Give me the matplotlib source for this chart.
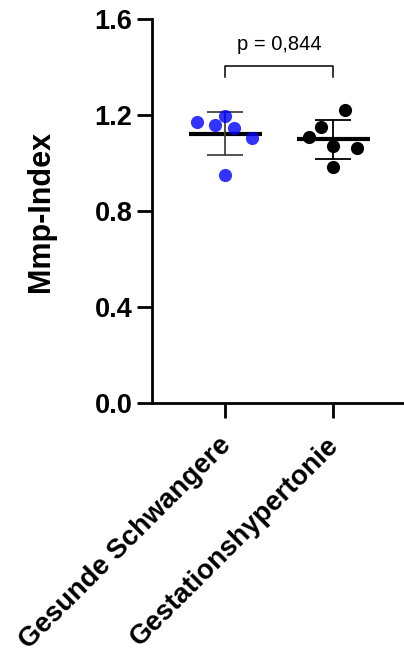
import matplotlib
matplotlib.use('Agg')
import matplotlib.pyplot as plt
import numpy as np

plt.rcParams['font.family'] = ['Liberation Sans', 'DejaVu Sans']

# Mmp-Index per Gruppe
groups = ['Gesunde Schwangere', 'Gestationshypertonie']
healthy = [1.171, 1.160, 1.197, 1.146, 1.103, 0.950]
hypertension = [1.221, 1.149, 1.107, 1.072, 1.062, 0.982]
p_label = 'p = 0,844'

# horizontal spread of the dots around each category
jitter_healthy = [-0.256, -0.09, 0.0, 0.083, 0.25, 0.0]
jitter_hyper = [0.111, -0.111, -0.222, 0.0, 0.222, 0.0]

fig = plt.figure(figsize=(4.04, 6.55), dpi=100)
ax = fig.add_axes([152 / 404, 1 - 403 / 655, 1 - 152 / 404, (403 - 19) / 655])

series = [
    (healthy, jitter_healthy, '#0000FF', 0.8, '#444444'),
    (hypertension, jitter_hyper, 'black', 1.0, 'black'),
]
for i, (vals, jit, col, alpha, bar_col) in enumerate(series):
    vals = np.asarray(vals)
    mean = vals.mean()
    sd = vals.std(ddof=1)
    # mean line
    ax.plot([i - 0.338, i + 0.338], [mean, mean], color='black', lw=3.0,
            solid_capstyle='butt', zorder=2)
    # SD whiskers with caps
    ax.plot([i, i], [mean - sd, mean + sd], color=bar_col, lw=1.3, zorder=2)
    for y in (mean - sd, mean + sd):
        ax.plot([i - 0.167, i + 0.167], [y, y], color=bar_col, lw=1.3,
                solid_capstyle='butt', zorder=2)
    ax.scatter(i + np.asarray(jit), vals, s=90, color=col, alpha=alpha,
               linewidths=0, zorder=3)

# significance bracket
y_br, y_tip = 1.404, 1.36
ax.plot([0, 0, 1, 1], [y_tip, y_br, y_br, y_tip], color='black', lw=1.1, zorder=2)
ax.text(0.5, y_br + 0.05, p_label, ha='center', va='bottom', fontsize=14.5)

ax.set_xlim(-0.676, 1.657)
ax.set_ylim(0, 1.6)
ax.set_yticks([0.0, 0.4, 0.8, 1.2, 1.6])
ax.set_yticklabels(['0.0', '0.4', '0.8', '1.2', '1.6'], fontsize=19.5, fontweight='bold')
ax.set_xticks([0, 1])
ax.set_xticklabels([])
# slanted category labels ending just under each tick
for i, name in enumerate(groups):
    ax.annotate(name, xy=(i, 0), xycoords=('data', 'axes fraction'),
                xytext=(-5, -21), textcoords='offset points',
                rotation=45, ha='right', va='top', rotation_mode='anchor',
                fontsize=19.8, fontweight='bold', annotation_clip=False)
ax.set_ylabel('Mmp-Index', fontsize=22, fontweight='bold', labelpad=28)

for side in ('top', 'right'):
    ax.spines[side].set_visible(False)
for side in ('left', 'bottom'):
    ax.spines[side].set_linewidth(2.0)
ax.tick_params(axis='both', length=11, width=2.0, pad=3)
ax.spines['left'].set_clip_on(False)
ax.spines['bottom'].set_clip_on(False)

fig.savefig('out.png', dpi=100)
